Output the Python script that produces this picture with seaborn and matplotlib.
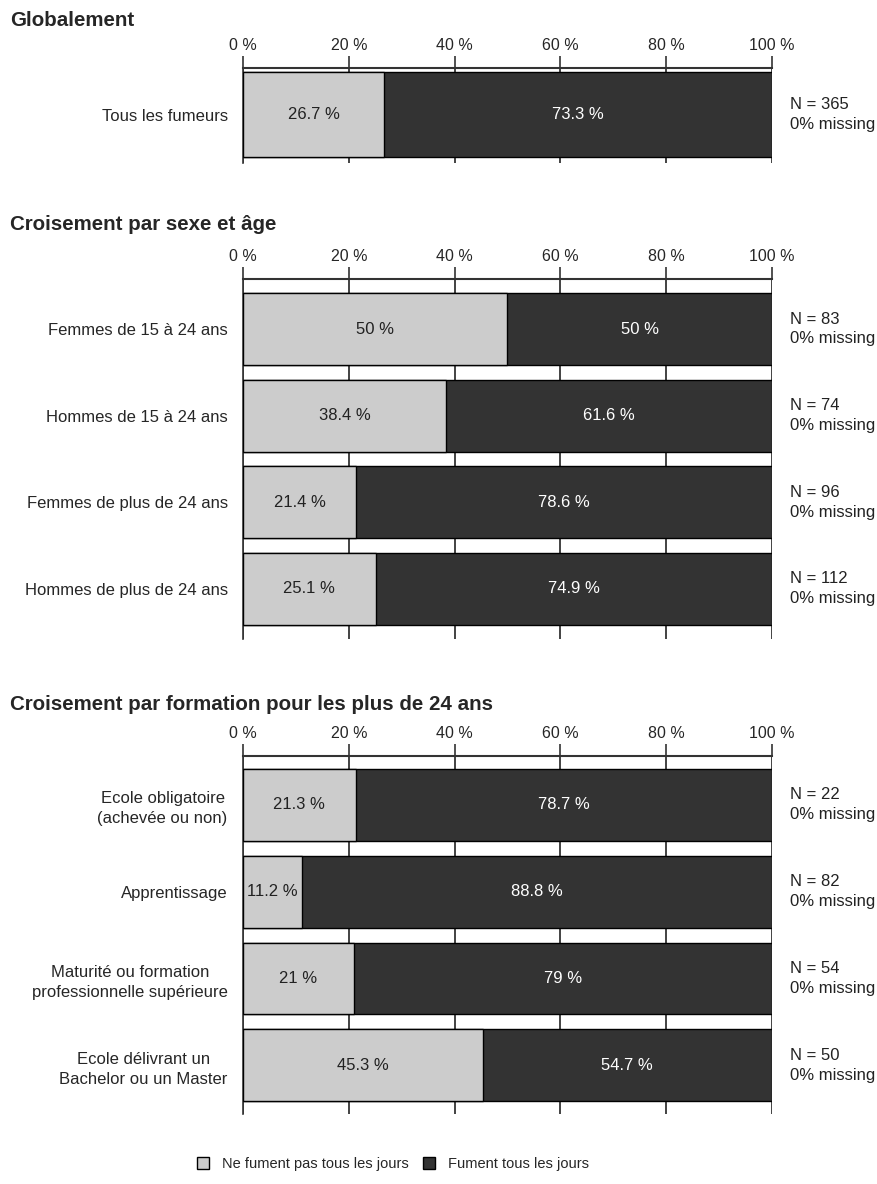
import matplotlib
matplotlib.use("Agg")
import matplotlib.pyplot as plt
import seaborn as sns
import pandas as pd
from matplotlib.patches import Patch

# Data
cats_global = ["Tous les fumeurs"]
light_global = [26.7]
dark_global = [73.3]
n_global = [365]

cats_sexe = ["Femmes de 15 à 24 ans", "Hommes de 15 à 24 ans",
             "Femmes de plus de 24 ans", "Hommes de plus de 24 ans"]
light_sexe = [50, 38.4, 21.4, 25.1]
dark_sexe = [50, 61.6, 78.6, 74.9]
n_sexe = [83, 74, 96, 112]

cats_form = ["Ecole obligatoire\n(achevée ou non)", "Apprentissage",
             "Maturité ou formation\nprofessionnelle supérieure",
             "Ecole délivrant un\nBachelor ou un Master"]
light_form = [21.3, 11.2, 21, 45.3]
dark_form = [78.7, 88.8, 79, 54.7]
n_form = [22, 82, 54, 50]

titles = ["Globalement", "Croisement par sexe et âge",
          "Croisement par formation pour les plus de 24 ans"]
legend_labels = ["Ne fument pas tous les jours", "Fument tous les jours"]
xticks = [0, 20, 40, 60, 80, 100]

LIGHT = "#cccccc"
DARK = "#333333"

sns.set_style("white")
plt.rcParams["font.family"] = ["Liberation Sans", "DejaVu Sans"]
plt.rcParams["font.size"] = 12

W, H = 878, 1184
fig = plt.figure(figsize=(W / 100, H / 100), dpi=100)


def fmt(v):
    return f"{v:g} %"


def panel(top_px, bottom_px, cats, light, dark, ns, width, ylim, title, title_px):
    ax = fig.add_axes([243 / W, 1 - bottom_px / H, (772 - 243) / W,
                       (bottom_px - top_px) / H])
    df = pd.DataFrame({"cat": cats, "light": light, "dark": dark})
    df["total"] = df["light"] + df["dark"]
    # full bar first (dark), then the light part drawn over it
    sns.barplot(data=df, y="cat", x="total", color=DARK, width=width,
                edgecolor="black", linewidth=1, saturation=1, ax=ax, zorder=2)
    sns.barplot(data=df, y="cat", x="light", color=LIGHT, width=width,
                edgecolor="black", linewidth=1, saturation=1, ax=ax, zorder=3)
    ax.set_xlim(0, 100)
    ax.set_ylim(*ylim)
    ax.set_xlabel("")
    ax.set_ylabel("")
    ax.xaxis.tick_top()
    ax.set_xticks(xticks)
    ax.set_xticklabels([f"{t} %" for t in xticks], fontsize=11.5)
    ax.tick_params(axis="x", length=9, width=1.2, color="#333333", pad=2)
    ax.tick_params(axis="y", length=0, pad=11)
    ax.grid(axis="x", color="#222222", linewidth=1.2, zorder=0)
    ax.set_axisbelow(True)
    for s in ["bottom", "right"]:
        ax.spines[s].set_visible(False)
    ax.spines["top"].set_color("#333333")
    ax.spines["top"].set_linewidth(1.5)
    ax.spines["left"].set_color("#333333")
    ax.spines["left"].set_linewidth(1.2)
    for lab in ax.get_yticklabels():
        lab.set_horizontalalignment("right")
        lab.set_multialignment("center")
        lab.set_linespacing(1.4)
    for i, (lv, dv, n) in enumerate(zip(light, dark, ns)):
        ax.text(lv / 2, i, fmt(lv), ha="center", va="center", color="#222222")
        ax.text(lv + dv / 2, i, fmt(dv), ha="center", va="center", color="white")
        ax.text(1.034, i, f"N = {n}\n0% missing", transform=ax.get_yaxis_transform(),
                ha="left", va="center", color="#222222", linespacing=1.4)
    fig.text(10 / W, 1 - title_px / H, title, fontweight="bold", fontsize=14.8,
             ha="left", va="center")
    return ax


panel(68, 163, cats_global, light_global, dark_global, n_global,
      0.9, (0.51, -0.49), titles[0], 21)
panel(279, 639, cats_sexe, light_sexe, dark_sexe, n_sexe,
      0.832, (3.58, -0.578), titles[1], 225)
panel(756, 1114, cats_form, light_form, dark_form, n_form,
      0.828, (3.56, -0.563), titles[2], 704)

handles = [Patch(facecolor=LIGHT, edgecolor="black"),
           Patch(facecolor=DARK, edgecolor="black")]
fig.legend(handles, legend_labels, loc="center", ncol=2, frameon=False,
           bbox_to_anchor=(393 / W, 1 - 1164 / H), handlelength=0.8,
           handleheight=0.8, columnspacing=1.0, handletextpad=0.9,
           fontsize=10.5)

fig.savefig("out.png", dpi=100)
